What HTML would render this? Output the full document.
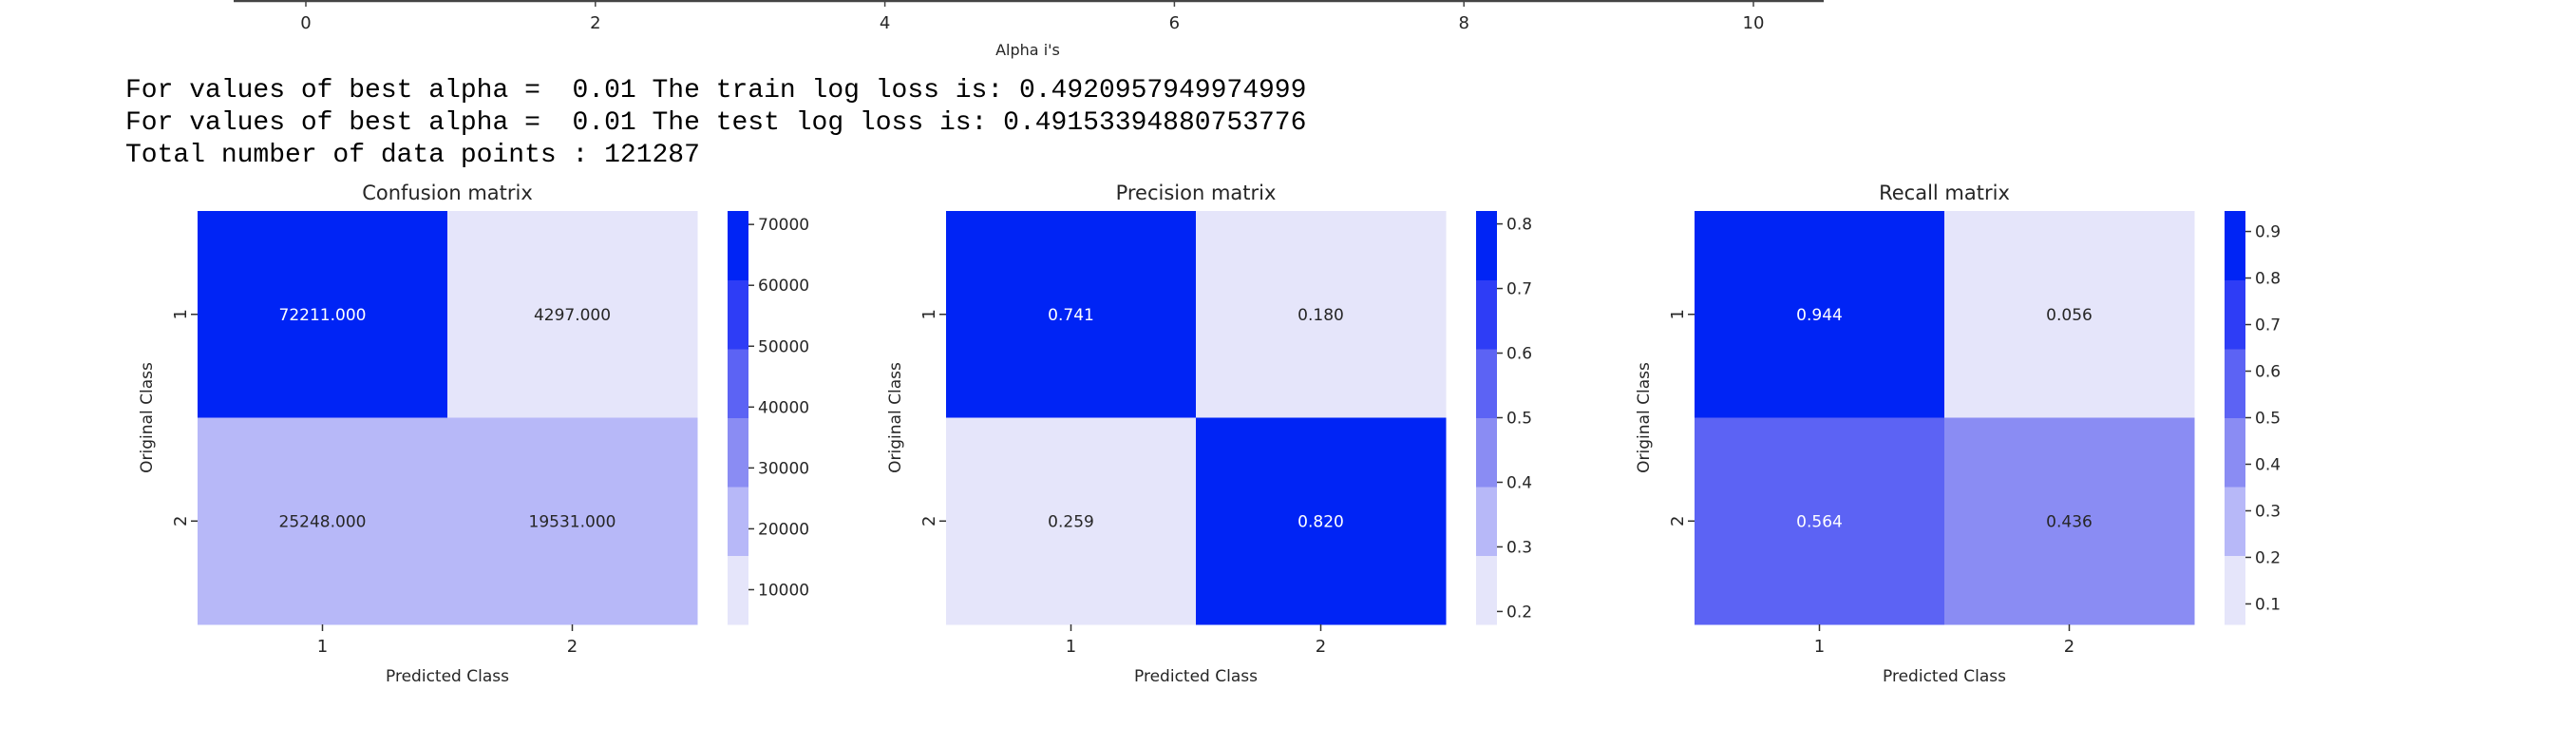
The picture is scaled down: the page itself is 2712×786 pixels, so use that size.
<!DOCTYPE html>
<html><head><meta charset="utf-8"><style>
body{margin:0;background:#fff;width:2712px;height:786px;overflow:hidden}
svg{display:block}
text{font-family:"DejaVu Sans","Liberation Sans",sans-serif;fill:#262626}
.mono{font-family:"Liberation Mono",monospace;fill:#000;font-size:28px;white-space:pre}
</style></head><body>
<svg id="s" width="2712" height="786">
<g id="topaxis"></g>
<text class="mono" xml:space="preserve" x="132" y="102">For values of best alpha =  0.01 The train log loss is: 0.4920957949974999</text>
<text class="mono" xml:space="preserve" x="132" y="136">For values of best alpha =  0.01 The test log loss is: 0.49153394880753776</text>
<text class="mono" xml:space="preserve" x="132" y="170">Total number of data points : 121287</text>
</svg>
<script>
const alphaTicks=[0,2,4,6,8,10];
const titles=["Confusion matrix","Precision matrix","Recall matrix"];
const confValues=[[72211,4297],[25248,19531]];
const precValues=[[0.741,0.180],[0.259,0.820]];
const recValues=[[0.944,0.056],[0.564,0.436]];
const confTicks=[10000,20000,30000,40000,50000,60000,70000];
const precTicks=[0.2,0.3,0.4,0.5,0.6,0.7,0.8];
const recTicks=[0.1,0.2,0.3,0.4,0.5,0.6,0.7,0.8,0.9];
const classLabels=["1","2"];
const palette=["#e5e5fa","#b7b8f8","#8a8cf3","#5c63f4","#2e3df6","#0024f5"];

const NS="http://www.w3.org/2000/svg";
const svg=document.getElementById('s');
function el(tag,attrs,parent,txt){const e=document.createElementNS(NS,tag);for(const k in attrs)e.setAttribute(k,attrs[k]);if(txt!==undefined)e.textContent=txt;(parent||svg).appendChild(e);return e;}

const ta=document.getElementById('topaxis');
const ax=v=>322+v*152.4;
el('line',{x1:246,y1:1,x2:1920,y2:1,stroke:'#444','stroke-width':2.5},ta);
alphaTicks.forEach(v=>{
  el('line',{x1:ax(v),y1:1,x2:ax(v),y2:7,stroke:'#444','stroke-width':1.5},ta);
  const t=el('text',{x:ax(v),y:30,'text-anchor':'middle','font-size':18},ta,String(v));
  
  
});
const at=el('text',{x:1082,y:58,'text-anchor':'middle','font-size':16},ta,"Alpha i's");



const panels=[
 {vals:confValues,ticks:confTicks,fmt:v=>v.toFixed(3),tfmt:v=>String(v),name:'confusion'},
 {vals:precValues,ticks:precTicks,fmt:v=>v.toFixed(3),tfmt:v=>v.toFixed(1),name:'precision'},
 {vals:recValues,ticks:recTicks,fmt:v=>v.toFixed(3),tfmt:v=>v.toFixed(1),name:'recall'}];
const TOP=222,H=435,W=526;
panels.forEach((p,pi)=>{
  const X=208+pi*788;
  const g=el('g',{});
  
  
  const flat=p.vals.flat();const mn=Math.min(...flat),mx=Math.max(...flat);
  const band=v=>Math.min(5,Math.floor((v-mn)/(mx-mn)*6));
  const cw=W/2,ch=H/2;
  p.vals.forEach((row,r)=>row.forEach((v,c)=>{
    const b=band(v);
    const rc=el('rect',{x:X+c*cw,y:TOP+r*ch,width:cw+0.5,height:ch+0.5,fill:palette[b]},g);
    
    
    const t=el('text',{x:X+c*cw+cw/2,y:TOP+r*ch+ch/2+6,'text-anchor':'middle','font-size':17,style:'fill:'+(b>=3?'#fff':'#262626')},g,p.fmt(v));
    
    
  }));
  const tt=el('text',{x:X+W/2,y:210,'text-anchor':'middle','font-size':21},g,titles[pi]);
  
  
  classLabels.forEach((l,i)=>{
    const cx=X+cw*i+cw/2;
    el('line',{x1:cx,y1:TOP+H,x2:cx,y2:TOP+H+7,stroke:'#333','stroke-width':1.5},g);
    const xt=el('text',{x:cx,y:TOP+H+29,'text-anchor':'middle','font-size':18},g,l);
    
    
    const cy=TOP+ch*i+ch/2;
    el('line',{x1:X-7,y1:cy,x2:X,y2:cy,stroke:'#333','stroke-width':1.5},g);
    const yt=el('text',{x:0,y:0,'text-anchor':'middle','font-size':18,transform:`translate(${X-12},${cy}) rotate(-90)`},g,l);
    
    
  });
  const xl=el('text',{x:X+W/2,y:TOP+H+60,'text-anchor':'middle','font-size':17},g,'Predicted Class');
  
  
  const yl=el('text',{x:0,y:0,'text-anchor':'middle','font-size':17,transform:`translate(${X-48},${TOP+H/2}) rotate(-90)`},g,'Original Class');
  
  
  const CX=X+558,CW=22;
  const cb=el('g',{});
  
  
  palette.forEach((c,i)=>{el('rect',{x:CX,y:TOP+H-(i+1)*H/6,width:CW,height:H/6+0.5,fill:c},cb);});
  const cy=v=>TOP+H-(v-mn)/(mx-mn)*H;
  p.ticks.forEach(v=>{
    el('line',{x1:CX+CW,y1:cy(v),x2:CX+CW+6,y2:cy(v),stroke:'#333','stroke-width':1.5},cb);
    const t=el('text',{x:CX+CW+10,y:cy(v)+6,'font-size':17},cb,p.tfmt(v));
    
    
  });
});
</script>
</body></html>
